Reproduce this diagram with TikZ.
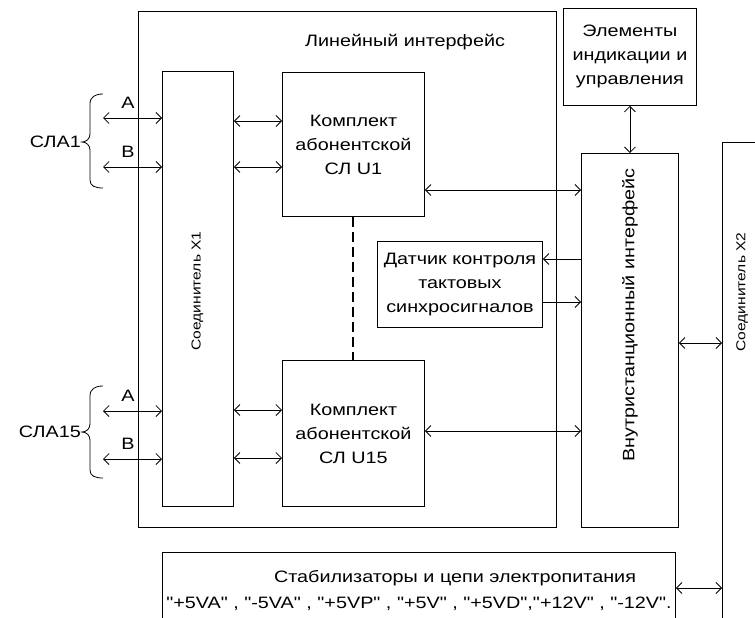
\documentclass[tikz,border=0pt]{standalone}
\usepackage{fontspec}
\setmainfont{Liberation Sans}[FakeStretch=1.2, Ligatures=TeXOff]
\usetikzlibrary{arrows.meta}

\begin{document}
\begin{tikzpicture}[x=1pt,y=-1pt,
  box/.style={draw, line width=0.9pt, inner sep=0pt, anchor=north west,
              align=center, font=\fontsize{16.5}{24}\selectfont},
  txt/.style={inner sep=0pt, align=center, font=\fontsize{16.5}{24}\selectfont},
  smalltxt/.style={inner sep=0pt, font=\fontsize{13}{15}\selectfont},
  biarrow/.style={line width=0.8pt, {Straight Barb[length=5.5pt,width=11pt]}-{Straight Barb[length=5.5pt,width=11pt]}},
  onearrow/.style={line width=0.8pt, -{Straight Barb[length=5.5pt,width=11pt]}},
  dashline/.style={line width=2pt, dash pattern=on 10pt off 5pt},
  bracepath/.style={line width=0.8pt}
]
\useasboundingbox (0,0) rectangle (755,618);
\clip (0,0) rectangle (755,618);

% line interface frame and its blocks
\node[box, minimum width=418pt, minimum height=516pt] (lin) at (138,11) {};
\node[txt] (lintitle) at (405,42) {Линейный интерфейс};

\node[box, minimum width=71pt, minimum height=435pt] (x1) at (162,71) {};
\node[smalltxt, rotate=90] (x1lbl) at (197.5,291) {Соединитель Х1};

\node[box, minimum width=142pt, minimum height=144pt] (u1) at (282,72)
  {Комплект\\абонентской\\СЛ U1};
\node[box, minimum width=142pt, minimum height=146pt] (u15) at (282,360)
  {Комплект\\абонентской\\СЛ U15};

\node[box, minimum width=165pt, minimum height=86pt] (dat) at (377,241)
  {Датчик контроля\\тактовых\\синхросигналов};

% blocks outside the line interface
\node[box, minimum width=133pt, minimum height=97pt] (el) at (563,8)
  {Элементы\\индикации и\\управления};
\node[box, minimum width=97pt, minimum height=374pt] (vn) at (581,153) {};
\node[txt, rotate=90] (vnlbl) at (630,315) {Внутристанционный интерфейс};

\node[box, minimum width=80pt, minimum height=520pt] (x2) at (722,142) {};
\node[smalltxt, rotate=90] (x2lbl) at (742,292) {Соединитель Х2};

\node[box, minimum width=513pt, minimum height=100pt] (st) at (162,552) {};
\node[txt, anchor=north, font=\fontsize{16.5}{26}\selectfont] (stlbl) at (419,570)
  {\hspace*{72pt}Стабилизаторы и цепи электропитания\\
   "+5VA" , "-5VA" , "+5VP" , "+5V" , "+5VD","+12V" , "-12V".};

% subscriber line groups with braces
\node[txt, anchor=east] (sla1) at (81,142) {СЛА1};
\node[txt, anchor=east] (sla15) at (81,432) {СЛА15};

\draw[bracepath] (103,94) .. controls (95,94) and (90,97) .. (90,104) -- (90,134)
  .. controls (90,139) and (86,142) .. (82,142)
  .. controls (86,142) and (90,145) .. (90,150) -- (90,180)
  .. controls (90,186) and (95,188) .. (103,188);
\draw[bracepath] (103,386) .. controls (95,386) and (90,389) .. (90,396) -- (90,424)
  .. controls (90,429) and (86,432) .. (82,432)
  .. controls (86,432) and (90,435) .. (90,440) -- (90,470)
  .. controls (90,476) and (95,478) .. (103,478);

\coordinate (a1) at (103,118);
\coordinate (b1) at (103,167);
\coordinate (a15) at (103,411);
\coordinate (b15) at (103,459);
\node[txt] (a1lbl) at (128,103) {A};
\node[txt] (b1lbl) at (128,152) {B};
\node[txt] (a15lbl) at (128,396) {A};
\node[txt] (b15lbl) at (128,444) {B};

\draw[biarrow] (a1) -- (a1 -| x1.west);
\draw[biarrow] (b1) -- (b1 -| x1.west);
\draw[biarrow] (a15) -- (a15 -| x1.west);
\draw[biarrow] (b15) -- (b15 -| x1.west);

% connector X1 to the line kits
\draw[biarrow] (x1.east |- 0,121) -- (u1.west |- 0,121);
\draw[biarrow] (x1.east |- 0,167) -- (u1.west |- 0,167);
\draw[biarrow] (x1.east |- 0,410) -- (u15.west |- 0,410);
\draw[biarrow] (x1.east |- 0,458) -- (u15.west |- 0,458);

\draw[dashline] (u1.south) -- (u15.north);

% links to the internal interface
\draw[biarrow] (u1.east |- 0,190) -- (vn.west |- 0,190);
\draw[biarrow] (u15.east |- 0,431) -- (vn.west |- 0,431);
\draw[onearrow] (vn.west |- 0,259) -- (dat.east |- 0,259);
\draw[onearrow] (dat.east |- 0,302) -- (vn.west |- 0,302);
\draw[biarrow] (el.south) -- (vn.north);
\draw[biarrow] (vn.east |- 0,343) -- (x2.west |- 0,343);
\draw[biarrow] (st.east |- 0,588) -- (x2.west |- 0,588);
\end{tikzpicture}
\end{document}
